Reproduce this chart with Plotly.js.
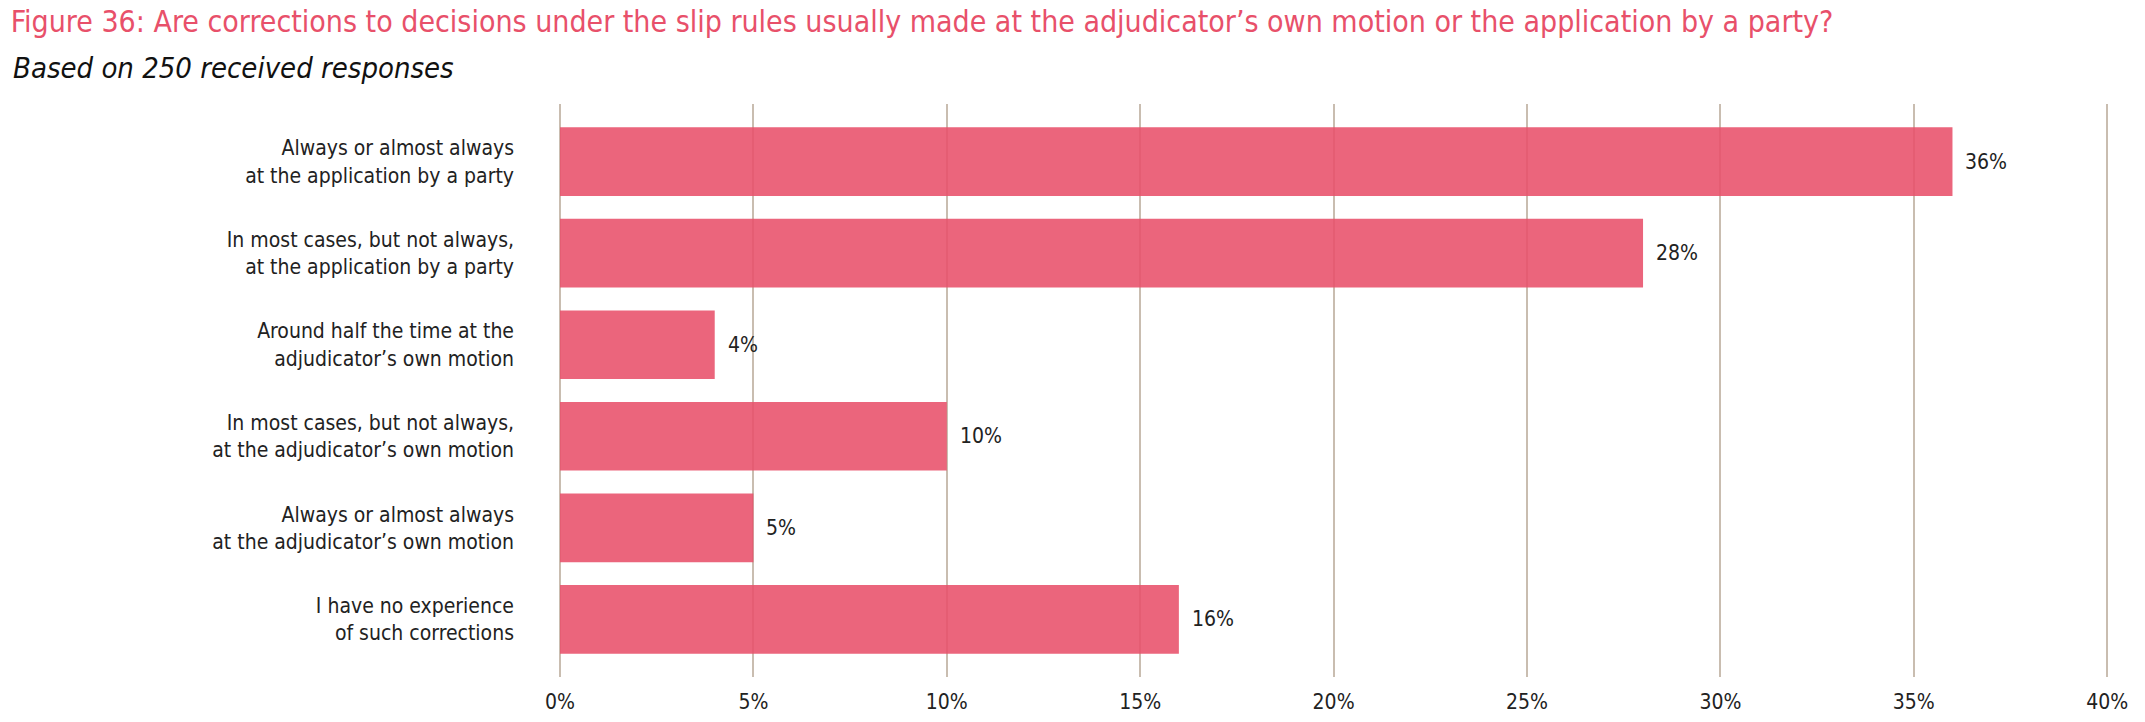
<!DOCTYPE html>
<html>
<head>
<meta charset="utf-8">
<script src="https://cdn.plot.ly/plotly-3.0.1.min.js"></script>
<style>
html,body{margin:0;padding:0;background:#fff;}
#chart{width:2145px;height:722px;}
</style>
</head>
<body>
<div id="chart"></div>
<script>
const categories = [
  "Always or almost always<br>at the application by a party",
  "In most cases, but not always,<br>at the application by a party",
  "Around half the time at the<br>adjudicator’s own motion",
  "In most cases, but not always,<br>at the adjudicator’s own motion",
  "Always or almost always<br>at the adjudicator’s own motion",
  "I have no experience<br>of such corrections"
];
const values = [36, 28, 4, 10, 5, 16];
const tickVals = [0, 5, 10, 15, 20, 25, 30, 35, 40];
const tickText = ["0%", "5%", "10%", "15%", "20%", "25%", "30%", "35%", "40%"];
const titleText = "Figure 36: Are corrections to decisions under the slip rules usually made at the adjudicator’s own motion or the application by a party?";
const subtitleText = "Based on 250 received responses";

const FONT = "'DejaVu Sans Condensed', 'Liberation Sans Narrow', 'Liberation Sans', sans-serif";
const PINK = "#E8506A";
const GRID = "#C9BDB0";
const INK = "#222222";

const trace = {
  type: "bar",
  orientation: "h",
  y: categories,
  x: values,
  marker: {color: "rgba(232,80,106,0.88)", line: {width: 0}},
  hoverinfo: "x+y"
};

const annotations = values.map((v, i) => ({
  x: v, y: categories[i], xref: "x", yref: "y",
  text: v + "%", showarrow: false, xanchor: "left", xshift: 11,
  font: {family: FONT, size: 21, color: INK}
}));

annotations.push({
  xref: "paper", yref: "paper", x: 0, y: 1,
  text: "<i>" + subtitleText + "</i>", showarrow: false,
  xanchor: "left", yanchor: "middle",
  xshift: -549, yshift: 36,
  font: {family: FONT, size: 29, color: "#111"}
});

const layout = {
  width: 2145, height: 722,
  margin: {l: 560, r: 32, t: 104, b: 45},
  paper_bgcolor: "#fff", plot_bgcolor: "#fff",
  bargap: 0.25,
  showlegend: false,
  title: {
    text: titleText, x: 0.005, xanchor: "left", xref: "container",
    y: 0.97, yanchor: "middle",
    font: {family: FONT, size: 30, color: PINK}
  },
  xaxis: {
    range: [0, 40.15], tickvals: tickVals, ticktext: tickText,
    showgrid: true, gridcolor: GRID, gridwidth: 2,
    zeroline: true, zerolinecolor: GRID, zerolinewidth: 2,
    showline: false, ticks: "",
    tickfont: {family: FONT, size: 21, color: INK},
    ticklabelstandoff: 10,
    fixedrange: true
  },
  yaxis: {
    type: "category",
    categoryorder: "array", categoryarray: categories,
    autorange: false, range: [5.63, -0.63],
    showgrid: false, zeroline: false, showline: false, ticks: "",
    tickfont: {family: FONT, size: 21, color: INK},
    ticklabelstandoff: 45,
    fixedrange: true
  },
  annotations: annotations
};

Plotly.newPlot("chart", [trace], layout, {displayModeBar: false, staticPlot: true});
</script>
</body>
</html>
